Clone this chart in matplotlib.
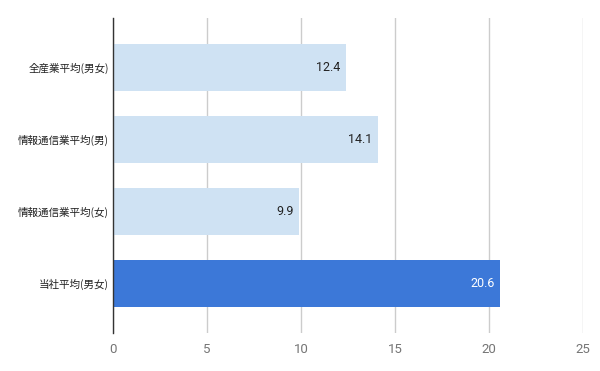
import matplotlib
matplotlib.use("Agg")
import matplotlib.pyplot as plt

# data
categories = ['全産業平均(男女)', '情報通信業平均(男)', '情報通信業平均(女)', '当社平均(男女)']
values = [12.4, 14.1, 9.9, 20.6]
bar_colors = ['#cfe2f3', '#cfe2f3', '#cfe2f3', '#3c78d8']
label_colors = ['#222222', '#222222', '#222222', '#ffffff']
xticks = [0, 5, 10, 15, 20, 25]

plt.rcParams['font.family'] = ['Roboto', 'Noto Sans CJK JP', 'DejaVu Sans']

fig = plt.figure(figsize=(6, 3.71), dpi=100)
ax = fig.add_axes([113 / 600, 1 - 333 / 371, 470 / 600, 315 / 371])

ypos = list(range(len(categories)))
ax.barh(ypos, values, height=0.65, color=bar_colors, zorder=2)

for y, v, c in zip(ypos, values, label_colors):
    ax.text(v - 0.3, y, f"{v:.1f}", ha='right', va='center',
            fontsize=9, color=c, zorder=3)

ax.set_xlim(0, 25)
ax.set_ylim(len(categories) - 1 + 0.69, -0.69)
ax.set_xticks(xticks)
ax.set_xticklabels([str(t) for t in xticks], color='#757575', fontsize=9.5)
ax.set_yticks(ypos)
ax.set_yticklabels(categories, fontsize=7.6,
                   family=['Noto Sans CJK JP', 'DejaVu Sans'], color='#222222')
ax.tick_params(axis='y', length=0, pad=3)
ax.tick_params(axis='x', length=0, pad=7)

ax.grid(axis='x', color='#cccccc', linewidth=1, zorder=0)
ax.set_axisbelow(True)
for s in ['top', 'right', 'bottom']:
    ax.spines[s].set_visible(False)
ax.spines['left'].set_color('#333333')
ax.spines['left'].set_linewidth(1)
ax.spines['left'].set_zorder(4)

fig.savefig("out.png", dpi=100)
